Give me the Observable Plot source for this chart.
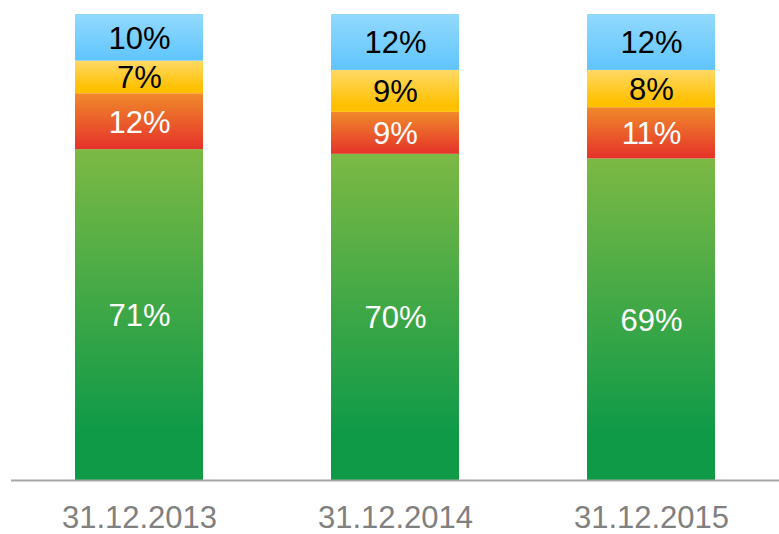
<!DOCTYPE html>
<html>
<head>
<meta charset="utf-8">
<script src="https://cdn.jsdelivr.net/npm/d3@7"></script>
<script src="https://cdn.jsdelivr.net/npm/@observablehq/plot@0.6"></script>
<style>
  html, body { margin: 0; padding: 0; background: #fff; }
  #chart { width: 779px; height: 534px; }
</style>
</head>
<body>
<div id="chart"></div>
<script>
const dates = ["31.12.2013", "31.12.2014", "31.12.2015"];
const series = ["seg-green", "seg-red", "seg-yellow", "seg-blue"];
const greenValues = [71, 70, 69];
const redValues = [12, 9, 11];
const yellowValues = [7, 9, 8];
const blueValues = [10, 12, 12];
const labelColors = {"seg-green": "#ffffff", "seg-red": "#ffffff", "seg-yellow": "#000000", "seg-blue": "#000000"};
const gradients = {
  "seg-green": [["0%", "#7cb944"], ["85%", "#0f9a48"], ["100%", "#0f9a48"]],
  "seg-red": [["0%", "#f08a2b"], ["100%", "#e5322a"]],
  "seg-yellow": [["0%", "#ffd966"], ["85%", "#ffc000"], ["100%", "#ffc000"]],
  "seg-blue": [["0%", "#92d9fd"], ["100%", "#5fc5fd"]]
};

const valuesBySeries = {"seg-green": greenValues, "seg-red": redValues, "seg-yellow": yellowValues, "seg-blue": blueValues};
const data = [];
series.forEach(s => dates.forEach((d, i) => data.push({date: d, series: s, value: valuesBySeries[s][i]})));

const plot = Plot.plot({
  width: 779,
  height: 534,
  marginLeft: 11,
  marginRight: 0,
  marginTop: 14,
  marginBottom: 54,
  style: {fontFamily: "'Liberation Sans', Arial, sans-serif", background: "#fff"},
  x: {domain: dates, paddingInner: 0.5, paddingOuter: 0.25, label: null},
  y: {domain: [0, 100], axis: null},
  color: {type: "ordinal", domain: series, range: series.map(s => `url(#grad-${s})`)},
  marks: [
    Plot.barY(data, {x: "date", y: "value", fill: "series", order: null}),
    Plot.text(data, Plot.stackY({
      x: "date", y: "value", order: null,
      text: d => d.value + "%",
      fill: d => labelColors[d.series],
      fontSize: 31,
      dy: 1
    })),
    Plot.ruleY([0], {stroke: "#a6a6a6", strokeWidth: 2}),
    Plot.axisX({tickSize: 0, tickPadding: 25, fontSize: 31, fill: "#808080", label: null})
  ]
});

const defs = d3.select(plot).insert("defs", ":first-child");
series.forEach(s => {
  const g = defs.append("linearGradient").attr("id", `grad-${s}`)
    .attr("x1", 0).attr("y1", 0).attr("x2", 0).attr("y2", 1);
  gradients[s].forEach(([o, c]) => g.append("stop").attr("offset", o).attr("stop-color", c));
});

document.getElementById("chart").appendChild(plot);
</script>
</body>
</html>
